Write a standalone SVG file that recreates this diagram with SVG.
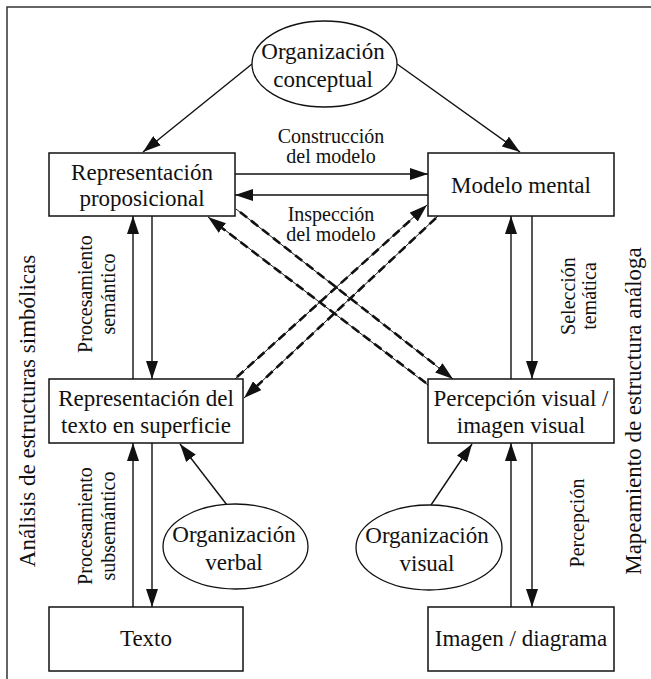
<svg xmlns="http://www.w3.org/2000/svg" width="651" height="679" viewBox="0 0 651 679">
  <defs>
    <style>
      .box { fill: #ffffff; stroke: #111111; stroke-width: 1.5; }
      .ell { fill: #ffffff; stroke: #111111; stroke-width: 1.3; }
      text { font-family: 'Liberation Serif', 'DejaVu Serif', 'Times New Roman', Times, serif; fill: #111111; text-anchor: middle; }
      .t { font-size: 23px; }
      .s { font-size: 20px; }
      .ln { fill: none; stroke: #111111; stroke-width: 1.4; }
      .thin { fill: none; stroke: #111111; stroke-width: 1; }
      .dash { fill: none; stroke: #111111; stroke-width: 2.6; stroke-dasharray: 9 5; }
      .frame { fill: none; stroke: #333333; stroke-width: 1.5; }
    </style>
    <marker id="ah" markerUnits="userSpaceOnUse" markerWidth="18" markerHeight="12" refX="18" refY="6" orient="auto" viewBox="0 0 18 12">
      <path d="M0,0 L18,6 L0,12 z" fill="#111111"/>
    </marker>
  </defs>
  <rect x="0" y="0" width="651" height="679" fill="#ffffff"/>
  <g id="frame">
    <polyline class="frame" points="7,679 7,7 651,7"/>
  </g>
  <g id="side-labels" font-family="Liberation Serif, serif">
    <text class="t" transform="translate(35,411) rotate(-90)">Análisis de estructuras simbólicas</text>
    <text class="t" transform="translate(641,411) rotate(-90)">Mapeamiento de estructura análoga</text>
  </g>
  <g id="connectors">
    <line class="ln" x1="252" y1="64" x2="143" y2="152" marker-end="url(#ah)"/>
    <line class="ln" x1="397" y1="64" x2="520" y2="152" marker-end="url(#ah)"/>
    <line class="ln" x1="235" y1="174" x2="428" y2="174" marker-end="url(#ah)"/>
    <line class="ln" x1="428" y1="195" x2="235" y2="195" marker-end="url(#ah)"/>
    <line class="ln" x1="133" y1="379" x2="133" y2="216" marker-end="url(#ah)"/>
    <line class="ln" x1="152" y1="216" x2="152" y2="379" marker-end="url(#ah)"/>
    <line class="ln" x1="133" y1="607" x2="133" y2="443" marker-end="url(#ah)"/>
    <line class="ln" x1="152" y1="443" x2="152" y2="607" marker-end="url(#ah)"/>
    <line class="ln" x1="511" y1="379" x2="511" y2="216" marker-end="url(#ah)"/>
    <line class="ln" x1="532" y1="216" x2="532" y2="379" marker-end="url(#ah)"/>
    <line class="ln" x1="511" y1="607" x2="511" y2="443" marker-end="url(#ah)"/>
    <line class="ln" x1="532" y1="443" x2="532" y2="607" marker-end="url(#ah)"/>
    <line class="ln" x1="227" y1="505" x2="180" y2="444" marker-end="url(#ah)"/>
    <line class="ln" x1="431" y1="505" x2="472" y2="444" marker-end="url(#ah)"/>
    <line class="thin" x1="236" y1="209" x2="453" y2="379" marker-end="url(#ah)"/>
    <line class="dash" x1="240" y1="212" x2="438" y2="367"/>
    <line class="thin" x1="428" y1="385" x2="208" y2="217" marker-end="url(#ah)"/>
    <line class="dash" x1="426" y1="383" x2="222" y2="228"/>
    <line class="thin" x1="235" y1="379" x2="427" y2="205" marker-end="url(#ah)"/>
    <line class="dash" x1="237" y1="377" x2="413" y2="218"/>
    <line class="thin" x1="438" y1="216" x2="244" y2="398" marker-end="url(#ah)"/>
    <line class="dash" x1="436" y1="218" x2="257" y2="386"/>
  </g>
  <g id="edge-labels">
    <text class="s" x="331" y="143">Construcción</text>
    <text class="s" x="331" y="163">del modelo</text>
    <text class="s" x="331" y="221">Inspección</text>
    <text class="s" x="331" y="241">del modelo</text>
    <text class="s" transform="translate(92,294) rotate(-90)">Procesamiento</text>
    <text class="s" transform="translate(114.5,294) rotate(-90)">semántico</text>
    <text class="s" transform="translate(92,526) rotate(-90)">Procesamiento</text>
    <text class="s" transform="translate(114.5,526) rotate(-90)">subsemántico</text>
    <text class="s" transform="translate(575,296) rotate(-90)">Selección</text>
    <text class="s" transform="translate(596,296) rotate(-90)">temática</text>
    <text class="s" transform="translate(584,523) rotate(-90)">Percepción</text>
  </g>
  <g id="org-conceptual">
    <ellipse class="ell" cx="324.5" cy="64" rx="72.5" ry="43"/>
    <text class="t" x="323" y="59">Organización</text>
    <text class="t" x="323" y="87">conceptual</text>
  </g>
  <g id="rep-proposicional">
    <rect class="box" x="49" y="153" width="186" height="63"/>
    <text class="t" x="142" y="180">Representación</text>
    <text class="t" x="142" y="206">proposicional</text>
  </g>
  <g id="modelo-mental">
    <rect class="box" x="428" y="153" width="186" height="63"/>
    <text class="t" x="521" y="193">Modelo mental</text>
  </g>
  <g id="rep-texto">
    <rect class="box" x="49" y="379" width="194" height="64"/>
    <text class="t" x="146" y="406">Representación del</text>
    <text class="t" x="146" y="433">texto en superficie</text>
  </g>
  <g id="percepcion-visual">
    <rect class="box" x="428" y="379" width="186" height="64"/>
    <text class="t" x="521" y="406">Percepción visual /</text>
    <text class="t" x="521" y="433">imagen visual</text>
  </g>
  <g id="org-verbal">
    <ellipse class="ell" cx="235.5" cy="546.5" rx="72.5" ry="42.5"/>
    <text class="t" x="234" y="542">Organización</text>
    <text class="t" x="234" y="570">verbal</text>
  </g>
  <g id="org-visual">
    <ellipse class="ell" cx="429" cy="547.5" rx="73" ry="42.5"/>
    <text class="t" x="427" y="543">Organización</text>
    <text class="t" x="427" y="571">visual</text>
  </g>
  <g id="texto">
    <rect class="box" x="49" y="607" width="194" height="64"/>
    <text class="t" x="146" y="646">Texto</text>
  </g>
  <g id="imagen-diagrama">
    <rect class="box" x="428" y="607" width="186" height="64"/>
    <text class="t" x="521" y="646">Imagen / diagrama</text>
  </g>
</svg>
